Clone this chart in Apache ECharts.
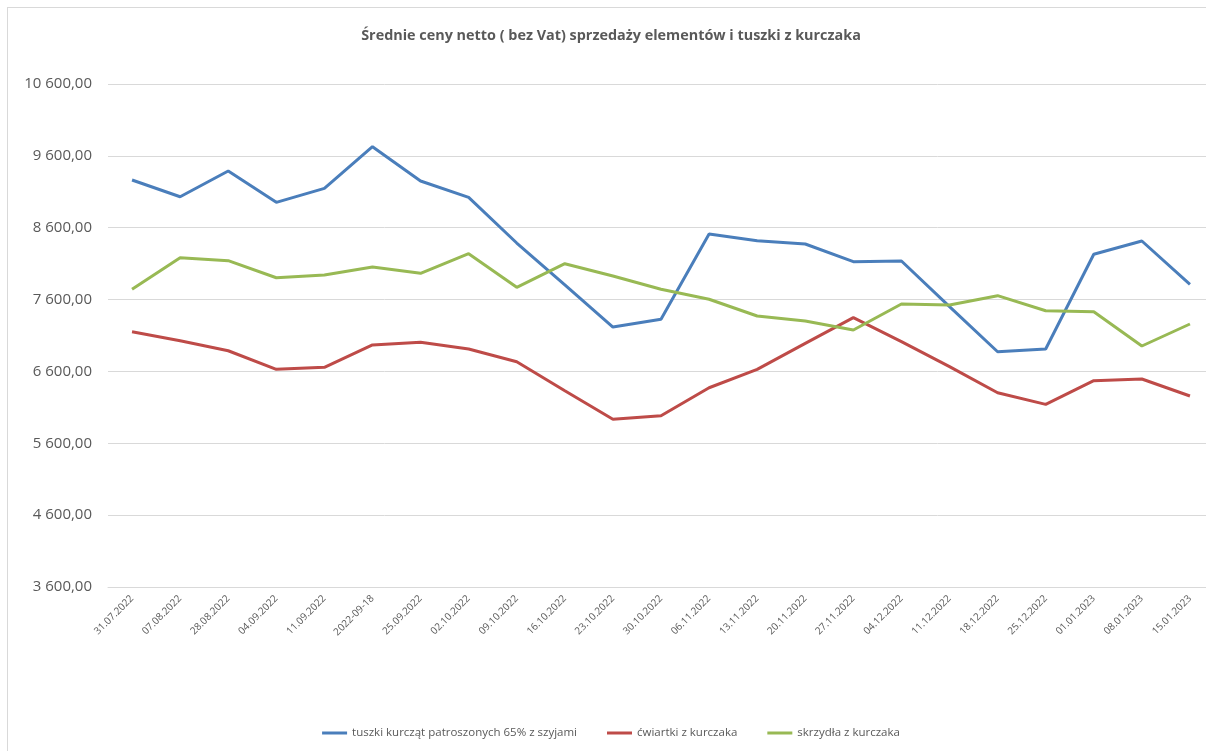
<!DOCTYPE html>
<html>
<head>
<meta charset="utf-8">
<script src="https://cdn.jsdelivr.net/npm/echarts@6/dist/echarts.min.js"></script>
<style>
  html, body { margin: 0; padding: 0; background: #fff; overflow: hidden; width: 1206px; height: 751px; }
  #frame { position: absolute; left: 7px; top: 7px; width: 1210px; height: 760px; border-left: 1px solid #d9d9d9; border-top: 1px solid #d9d9d9; }
  #chart { position: absolute; left: 0; top: 0; width: 1222px; height: 751px; }
</style>
</head>
<body>
<div id="frame"></div>
<div id="chart"></div>
<script>
// daty notowań
const dates = ['31.07.2022','07.08.2022','28.08.2022','04.09.2022','11.09.2022','2022-09-18','25.09.2022',
  '02.10.2022','09.10.2022','16.10.2022','23.10.2022','30.10.2022','06.11.2022','13.11.2022','20.11.2022',
  '27.11.2022','04.12.2022','11.12.2022','18.12.2022','25.12.2022','01.01.2023','08.01.2023','15.01.2023'];

const tuszki = [9264, 9031, 9389, 8953, 9148, 9728, 9250, 9023, 8387, 7803, 7218, 7325,
  8512, 8419, 8373, 8127, 8137, 7503, 6874, 6912, 8230, 8415, 7812];
const cwiartki = [7153, 7028, 6888, 6629, 6657, 6968, 7005, 6912, 6735, 6332, 5934, 5984,
  6373, 6629, 6991, 7348, 7014, 6666, 6304, 6142, 6471, 6495, 6258];
const skrzydla = [7743, 8183, 8141, 7904, 7942, 8053, 7965, 8238, 7771, 8099, 7928, 7743,
  7604, 7371, 7302, 7176, 7538, 7524, 7654, 7445, 7431, 6954, 7260];

const seriesNames = ['tuszki kurcząt patroszonych 65% z szyjami', 'ćwiartki z kurczaka', 'skrzydła z kurczaka'];

const fmt = v => {
  let s = Math.round(v).toString().replace(/\B(?=(\d{3})+(?!\d))/g, ' ');
  return s + ',00';
};

let myChart = echarts.init(document.getElementById('chart'));
myChart.setOption({
  animation: false,
  color: ['#4a7ebb', '#be4b48', '#98b954'],
  title: {
    text: 'Średnie ceny netto ( bez Vat) sprzedaży elementów i tuszki z kurczaka',
    left: 'center',
    top: 24,
    textStyle: { color: '#595959', fontSize: 14.4, fontWeight: 'bold', fontFamily: 'Open Sans' }
  },
  legend: {
    bottom: 7,
    left: 'center',
    icon: 'rect',
    itemWidth: 25,
    itemHeight: 3,
    itemGap: 30,
    textStyle: { color: '#595959', fontSize: 11.5, fontFamily: 'Open Sans' },
    data: seriesNames
  },
  grid: { left: 108, right: 8, top: 84, bottom: 164 },
  xAxis: {
    type: 'category',
    data: dates,
    boundaryGap: true,
    axisLine: { lineStyle: { color: '#d9d9d9' } },
    axisTick: { show: false },
    axisLabel: { rotate: 45, color: '#595959', fontSize: 10, fontFamily: 'Open Sans', interval: 0, margin: 10 }
  },
  yAxis: {
    type: 'value',
    min: 3600,
    max: 10600,
    interval: 1000,
    axisLine: { show: false },
    axisTick: { show: false },
    splitLine: { lineStyle: { color: '#d9d9d9' } },
    axisLabel: { color: '#595959', fontSize: 15, fontFamily: 'Open Sans', margin: 16, formatter: fmt }
  },
  series: [
    { name: seriesNames[0], type: 'line', data: tuszki, symbol: 'none', lineStyle: { width: 3 } },
    { name: seriesNames[1], type: 'line', data: cwiartki, symbol: 'none', lineStyle: { width: 3 } },
    { name: seriesNames[2], type: 'line', data: skrzydla, symbol: 'none', lineStyle: { width: 3 } }
  ]
});
</script>
</body>
</html>
